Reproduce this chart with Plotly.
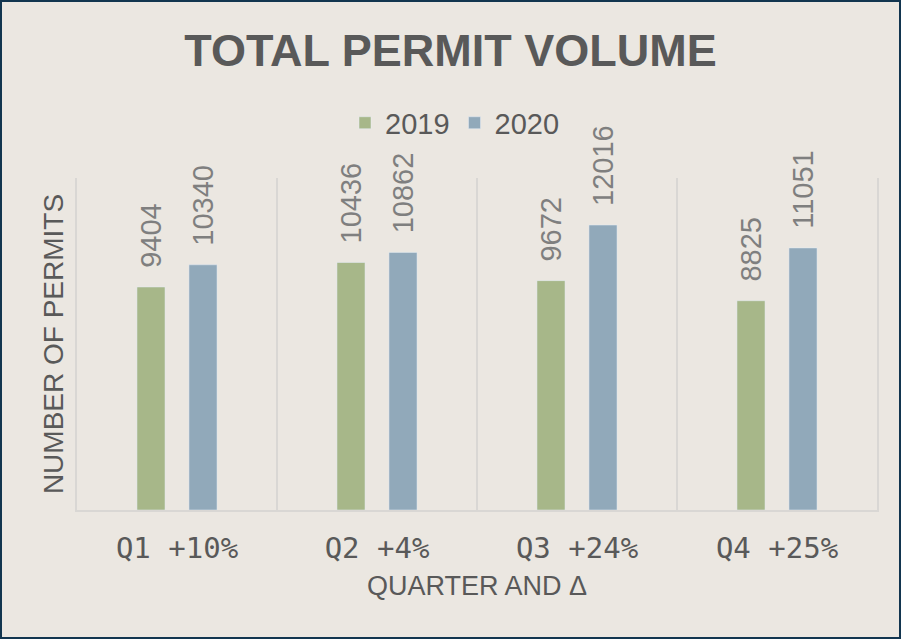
import plotly.graph_objects as go

categories = ["Q1 +10%", "Q2 +4%", "Q3 +24%", "Q4 +25%"]
permits_2019 = [9404, 10436, 9672, 8825]
permits_2020 = [10340, 10862, 12016, 11051]

BG = "#EBE7E1"
GREEN = "#A7B789"
BLUE = "#91A9BA"
TEXT = "#595959"
LABEL = "#7F7F7F"
GRID = "#D9D7D4"

fig = go.Figure()
for name, vals, col in [("2019", permits_2019, GREEN), ("2020", permits_2020, BLUE)]:
    fig.add_trace(go.Bar(
        x=categories, y=vals, name=name, marker_color=col,
        text=[str(v) for v in vals], texttemplate="\u00a0\u00a0%{text}", textposition="outside",
        textangle=-90, cliponaxis=False, constraintext="none",
        textfont=dict(family="Liberation Sans", size=29, color=LABEL),
    ))

fig.update_layout(
    width=901, height=639,
    paper_bgcolor=BG, plot_bgcolor=BG,
    margin=dict(l=77, r=24, t=178, b=129),
    barmode="group", bargap=0.48, bargroupgap=0.46,
    title=dict(text="<b>TOTAL PERMIT VOLUME</b>", x=0.5, xanchor="center",
               yref="container", y=1 - 50 / 639, yanchor="middle",
               font=dict(family="Liberation Sans", size=45, color=TEXT)),
    legend=dict(orientation="h", x=0.4725, xanchor="center", y=1.166, yanchor="middle",
                font=dict(family="Liberation Sans", size=29, color=TEXT),
                bgcolor="rgba(0,0,0,0)"),
    showlegend=True,
    xaxis=dict(tickson="boundaries", showgrid=True, gridcolor=GRID, gridwidth=2,
               showline=True, linecolor=GRID, linewidth=2, ticks="",
               tickfont=dict(family="DejaVu Sans Mono", size=29, color=TEXT),
               ticklabelstandoff=11,
               title=dict(text="QUARTER AND Δ", standoff=12,
                          font=dict(family="Liberation Sans", size=27, color=TEXT)),
               range=[-0.5, 3.5], automargin=False),
    yaxis=dict(range=[0, 14000], showgrid=False, zeroline=False, showticklabels=False,
               showline=True, mirror=True, linecolor=GRID, linewidth=2,
               ticks="", automargin=False,
               title=dict(text="NUMBER OF PERMITS", standoff=3,
                          font=dict(family="Liberation Sans", size=28, color=TEXT))),
    shapes=[dict(type="rect", xref="paper", yref="paper", x0=-77/800, x1=1+24/800,
                 y0=-129/332, y1=1+178/332, line=dict(color="#12354F", width=4),
                 fillcolor="rgba(0,0,0,0)", layer="above")],
)

fig.write_html("out.html", config={"displayModeBar": False},
               post_script="document.body.style.margin='0';")
